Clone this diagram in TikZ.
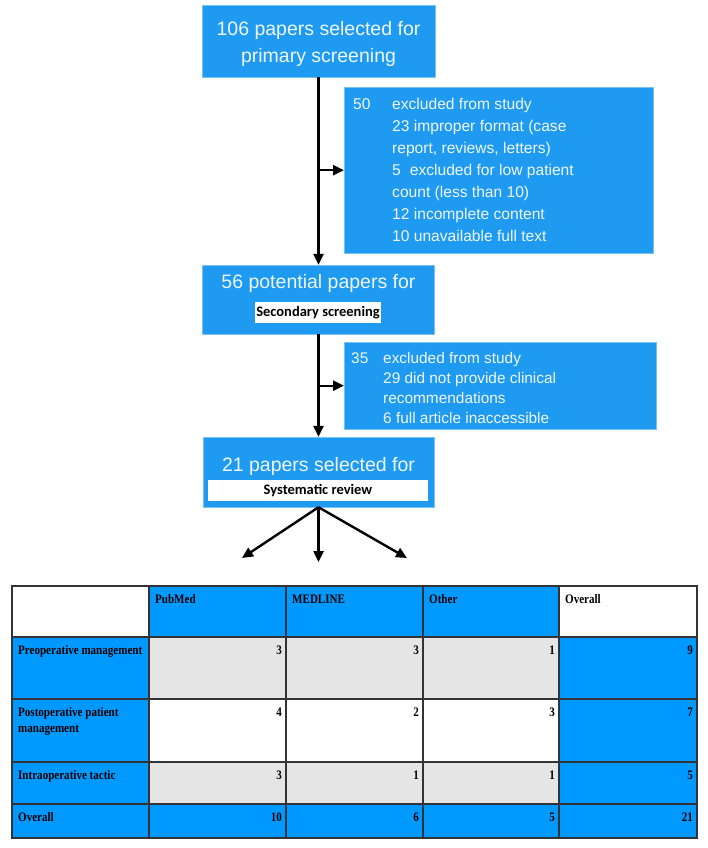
\documentclass[tikz,border=0pt]{standalone}
\usepackage{fontspec}
\setmainfont{Liberation Sans}
\newfontfamily\tabfont[FakeStretch=0.85]{Liberation Serif}
\newfontfamily\calfont{Carlito}
\usetikzlibrary{arrows.meta}

\definecolor{boxblue}{RGB}{30,155,240}
\definecolor{tabblue}{RGB}{0,153,255}
\definecolor{tabgray}{RGB}{229,229,229}
\definecolor{boxtext}{RGB}{240,246,255}
\definecolor{gridline}{RGB}{50,50,55}

\tikzset{
  flowbox/.style={fill=boxblue, draw=boxblue!60!white, inner sep=0pt, text=boxtext},
  titletxt/.style={anchor=base, inner sep=0pt, text=boxtext, font=\fontsize{19.5}{27}\selectfont},
  listtxt/.style={anchor=north west, inner sep=0pt, text=boxtext},
  tagbox/.style={fill=white, inner sep=0pt, text=black, font=\calfont\bfseries\fontsize{14.5}{16}\selectfont},
  arr/.style={-{Triangle[width=10pt,length=11pt]}, line width=2.4pt},
  celltxt/.style={anchor=base west, inner sep=0pt, align=left, font=\tabfont\bfseries\fontsize{13}{16}\selectfont},
  cellnum/.style={anchor=base east, inner sep=0pt, font=\tabfont\bfseries\fontsize{13}{16}\selectfont},
}

\begin{document}
\begin{tikzpicture}[x=1pt, y=-1pt]
  \useasboundingbox (0,0) rectangle (708,848);

  % flow chart boxes
  \node[flowbox, minimum width=233, minimum height=72] (prim) at (318.5,41) {};
  \node[titletxt] (primtxt) at (318.5,36) {106 papers selected for};
  \node[titletxt] (primtxtb) at (318.5,63) {primary screening};

  \node[flowbox, anchor=north west, minimum width=309, minimum height=166] (ex1) at (344,87) {};
  \node[listtxt, font=\fontsize{15.6}{22}\selectfont] (ex1txt) at ([xshift=9, yshift=-6.5]ex1.north west)
    {\begin{tabular}{@{}p{39pt}@{}l@{}}
      50 & excluded from study\\
         & 23 improper format (case\\
         & report, reviews, letters)\\
         & 5\hspace{9pt}excluded for low patient\\
         & count (less than 10)\\
         & 12 incomplete content\\
         & 10 unavailable full text
    \end{tabular}};

  \node[flowbox, minimum width=232, minimum height=69] (pot) at (318.5,299.5) {};
  \node[titletxt] (pottxt) at (318.5,288) {56 potential papers for};
  \node[tagbox, minimum width=126, minimum height=21] (sec) at (318,312.5) {Secondary screening};

  \node[flowbox, anchor=north west, minimum width=312, minimum height=87] (ex2) at (344,342) {};
  \node[listtxt, font=\fontsize{15.4}{20}\selectfont] (ex2txt) at ([xshift=7, yshift=-7]ex2.north west)
    {\begin{tabular}{@{}p{32pt}@{}l@{}}
      35 & excluded from study\\
         & 29 did not provide clinical\\
         & recommendations\\
         & 6 full article inaccessible
    \end{tabular}};

  \node[flowbox, minimum width=231, minimum height=70] (rev) at (318.5,472) {};
  \node[titletxt] (revtxt) at (318.5,471) {21 papers selected for};
  \node[tagbox, minimum width=220, minimum height=21] (sys) at (318,490.5) {Systematic review};

  % arrows
  \draw[arr] (prim.south) -- (pot.north);
  \draw[arr] (prim.south |- ex1.west) -- (ex1.west);
  \draw[arr] (pot.south) -- (rev.north);
  \draw[arr] (pot.south |- ex2.west) -- (ex2.west);

  \coordinate (fanl) at (242,558);
  \coordinate (fanm) at (318.5,562);
  \coordinate (fanr) at (407,558);
  \draw[arr] (rev.south) -- (fanl);
  \draw[arr] (rev.south) -- (fanm);
  \draw[arr] (rev.south) -- (fanr);

  % table cells
  \fill[tabblue] (149,586) rectangle (559,637);
  \fill[tabblue] (12,637) rectangle (149,838);
  \fill[tabblue] (559,637) rectangle (697,838);
  \fill[tabgray] (149,637) rectangle (559,699);
  \fill[tabgray] (149,762) rectangle (559,804);
  \fill[tabblue] (149,804) rectangle (559,838);
  \foreach \x in {149,286,423,559}
    \draw[gridline, line width=1.2pt] (\x,586) -- (\x,838);
  \foreach \y in {637,699,762,804}
    \draw[gridline, line width=1.2pt] (12,\y) -- (697,\y);
  \draw[gridline, line width=1.4pt] (12,586) rectangle (697,838);

  % table texts
  \node[celltxt] (hpub) at (155,603) {PubMed};
  \node[celltxt] (hmed) at (292,603) {MEDLINE};
  \node[celltxt] (hoth) at (429,603) {Other};
  \node[celltxt] (hall) at (565,603) {Overall};

  \node[celltxt] (rpre) at (18,654) {Preoperative management};
  \node[celltxt] (rpost) at (18,732) {Postoperative patient\\management};
  \node[celltxt] (rintra) at (18,779) {Intraoperative tactic};
  \node[celltxt] (rall) at (18,821) {Overall};

  \foreach \v/\x [count=\c] in {3/286,3/423,1/559,9/697}
    \node[cellnum] (pre\c) at (\x-4,654) {\v};
  \foreach \v/\x [count=\c] in {4/286,2/423,3/559,7/697}
    \node[cellnum] (post\c) at (\x-4,716) {\v};
  \foreach \v/\x [count=\c] in {3/286,1/423,1/559,5/697}
    \node[cellnum] (intra\c) at (\x-4,779) {\v};
  \foreach \v/\x [count=\c] in {10/286,6/423,5/559,21/697}
    \node[cellnum] (tot\c) at (\x-4,821) {\v};
\end{tikzpicture}
\end{document}
